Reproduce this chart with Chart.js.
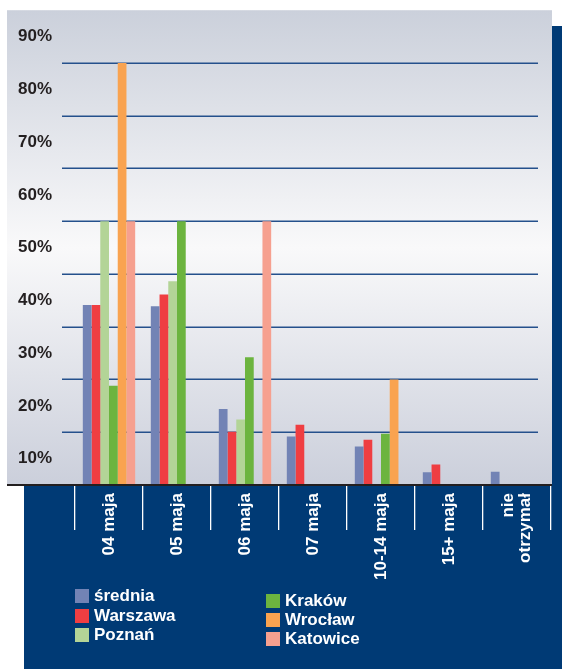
<!DOCTYPE html>
<html lang="pl">
<head>
<meta charset="utf-8">
<title>Termin otrzymania</title>
<script src="https://cdn.jsdelivr.net/npm/chart.js@4"></script>
<style>
  body { margin: 0; background: #fff; }
  #wrap { position: relative; width: 562px; height: 669px; }
  #legenda { position: absolute; left: 0; top: 0; }
  .poz {
    position: absolute; display: flex; align-items: center;
    font: bold 17px 'Liberation Sans', Arial, Helvetica, sans-serif;
    color: #fff; white-space: nowrap;
  }
  .poz span.kw { width: 14px; height: 14px; margin-right: 5px; display: inline-block; }
</style>
</head>
<body>
<div id="wrap">
  <canvas id="wykres" width="562" height="669"></canvas>
  <div id="legenda"></div>
</div>
<script>
const kategorie = ['04 maja', '05 maja', '06 maja', '07 maja', '10-14 maja', '15+ maja', ['nie', 'otrzymał']];
const etykietyY = ['10%', '20%', '30%', '40%', '50%', '60%', '70%', '80%', '90%'];

const srednia  = [34.1, 33.9, 14.4, 9.2, 7.3, 2.4, 2.5];
const warszawa = [34.1, 36.1, 10.1, 11.4, 8.6, 3.9, null];
const poznan   = [50, 38.6, 12.4, null, null, null, null];
const krakow   = [18.8, 50, 24.2, null, 9.7, null, null];
const wroclaw  = [80, null, null, null, 20, null, null];
const katowice = [50, null, 50, null, null, null, null];

const GRANAT = '#003a75';
const FONT = "'Liberation Sans', Arial, Helvetica, sans-serif";

const serie = [
  { label: 'średnia', data: srednia, backgroundColor: '#7283b5' },
  { label: 'Warszawa', data: warszawa, backgroundColor: '#ef3e42' },
  { label: 'Poznań', data: poznan, backgroundColor: '#b3d497' },
  { label: 'Kraków', data: krakow, backgroundColor: '#6cb43f' },
  { label: 'Wrocław', data: wroclaw, backgroundColor: '#f9a350' },
  { label: 'Katowice', data: katowice, backgroundColor: '#f6a08f' }
];

// tło: szary gradient + granatowa ramka z prawej i na dole
const tlo = {
  id: 'tlo',
  beforeDraw(chart) {
    const { ctx, chartArea: a } = chart;
    ctx.save();
    const g = ctx.createLinearGradient(0, a.top, 0, a.bottom);
    g.addColorStop(0, '#cbd0db');
    g.addColorStop(0.5, '#f9f9fa');
    g.addColorStop(1, '#cbcfdb');
    ctx.fillStyle = g;
    ctx.fillRect(7, a.top, a.right + 1 - 7, a.bottom - a.top);
    ctx.fillStyle = GRANAT;
    ctx.fillRect(a.right + 1, 26, chart.width - a.right - 1, a.bottom - 26);
    ctx.fillRect(24, a.bottom, chart.width - 24, chart.height - a.bottom);
    ctx.restore();
  },
  beforeDatasetsDraw(chart) {
    const { ctx, chartArea: a } = chart;
    const y = chart.scales.y;
    ctx.save();
    ctx.strokeStyle = '#24508c';
    ctx.lineWidth = 1.5;
    for (let v = 10; v <= 80; v += 10) {
      const py = Math.round(y.getPixelForValue(v)) + 0.25;
      ctx.beginPath();
      ctx.moveTo(a.left - 13, py);
      ctx.lineTo(a.right - 13, py);
      ctx.stroke();
    }
    ctx.restore();
  },
  afterDatasetsDraw(chart) {
    const { ctx, chartArea: a } = chart;
    ctx.save();
    ctx.strokeStyle = '#231f20';
    ctx.lineWidth = 2;
    ctx.beginPath();
    ctx.moveTo(7, a.bottom);
    ctx.lineTo(a.right + 1, a.bottom);
    ctx.stroke();
    ctx.restore();
  },
  // podpisy osi X pionowo, wieloliniowe wyśrodkowane na kategorii
  afterDraw(chart) {
    const { ctx, chartArea: a } = chart;
    const x = chart.scales.x;
    ctx.save();
    ctx.fillStyle = '#fff';
    ctx.font = 'bold 17px ' + FONT;
    ctx.textAlign = 'right';
    ctx.textBaseline = 'middle';
    const lh = 17;
    kategorie.forEach((k, i) => {
      const linie = Array.isArray(k) ? k : [k];
      const px = x.getPixelForValue(i);
      ctx.save();
      ctx.translate(px, a.bottom + 8);
      ctx.rotate(-Math.PI / 2);
      linie.forEach((t, j) => {
        ctx.fillText(t, 0, (j - (linie.length - 1) / 2) * lh);
      });
      ctx.restore();
    });
    ctx.restore();
  }
};

new Chart(document.getElementById('wykres'), {
  type: 'bar',
  data: { labels: kategorie, datasets: serie },
  options: {
    responsive: false,
    animation: false,
    events: [],
    layout: { padding: { left: 18, top: 8, right: 11, bottom: 0 } },
    datasets: { bar: { categoryPercentage: 0.77, barPercentage: 1.0 } },
    plugins: { legend: { display: false }, tooltip: { enabled: false } },
    scales: {
      x: {
        grid: { drawOnChartArea: false, drawTicks: true, tickLength: 45, color: '#fff', lineWidth: 1.3, offset: true },
        border: { display: false },
        ticks: { display: false },
        afterFit(s) { s.height = 184; }
      },
      y: {
        display: false,
        min: 0,
        max: 90
      },
      etyk: {
        position: 'left',
        min: 5,
        max: 95,
        grid: { display: false },
        border: { display: false },
        afterBuildTicks(s) { s.ticks = etykietyY.map((_, i) => ({ value: (i + 1) * 10 })); },
        ticks: {
          autoSkip: false,
          crossAlign: 'far',
          padding: 0,
          color: '#231f20',
          font: { family: FONT, size: 17, weight: 'bold' },
          callback: (v, i) => etykietyY[i]
        },
        afterFit(s) { s.width = 57; }
      }
    }
  },
  plugins: [tlo]
});

// legenda w dwóch kolumnach
const legenda = document.getElementById('legenda');
const pozycje = [[75, 589], [75, 608.5], [75, 628], [266, 594], [266, 613], [266, 632]];
serie.forEach((s, i) => {
  const el = document.createElement('div');
  el.className = 'poz';
  el.style.left = pozycje[i][0] + 'px';
  el.style.top = pozycje[i][1] + 'px';
  el.style.height = '14px';
  el.innerHTML = `<span class="kw" style="background:${s.backgroundColor}"></span>${s.label}`;
  legenda.appendChild(el);
});
</script>
</body>
</html>
